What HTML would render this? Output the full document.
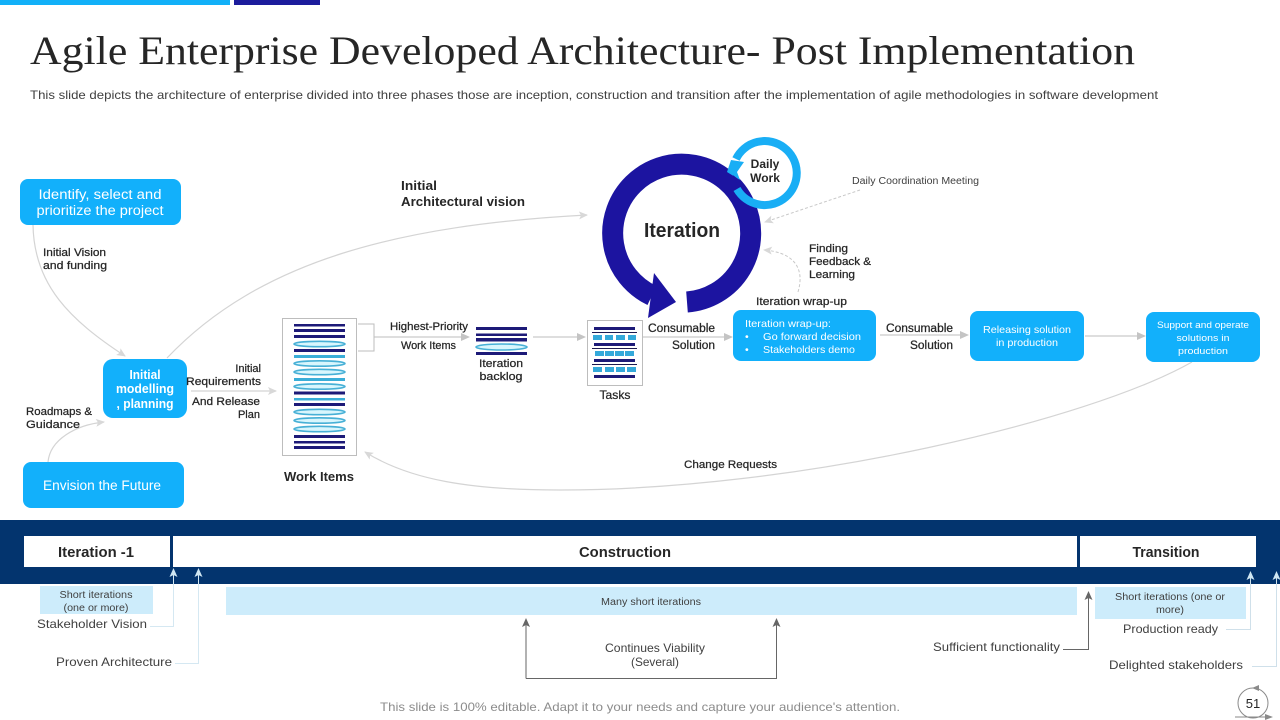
<!DOCTYPE html>
<html><head><meta charset="utf-8"><style>
html,body{margin:0;padding:0;background:#fff;width:1280px;height:720px;overflow:hidden}
svg{display:block}
text{font-family:"Liberation Sans",sans-serif;fill:#262626}
.b{font-weight:bold}
.m{stroke:#262626;stroke-width:.25px}
.wt{fill:#fff}
.t{fill:#404040}
.l{fill:none;stroke:#d4d4d4;stroke-width:1.2}
.g{fill:none;stroke:#bdbdbd;stroke-width:1}
</style></head><body>
<svg width="1280" height="720" viewBox="0 0 1280 720" xmlns="http://www.w3.org/2000/svg">
<defs>
<marker id="a" markerWidth="10" markerHeight="10" refX="8" refY="4" orient="auto" markerUnits="userSpaceOnUse"><path d="M0 0L9 4L0 8z" fill="#c4c4c4"/></marker>
<marker id="c" markerWidth="12" markerHeight="12" refX="8" refY="4" orient="auto" markerUnits="userSpaceOnUse"><path d="M0 0L9 4L0 8L2 4z" fill="#d8d8d8"/></marker>
<marker id="d" markerWidth="12" markerHeight="12" refX="8" refY="4" orient="auto" markerUnits="userSpaceOnUse"><path d="M0 0L9 4L0 8L2 4z" fill="#666"/></marker>
<marker id="e" markerWidth="12" markerHeight="12" refX="8" refY="4" orient="auto" markerUnits="userSpaceOnUse"><path d="M0 0L9 4L0 8L2 4z" fill="#cfe6f2"/></marker>
</defs>

<rect x="0" y="0" width="230" height="5" fill="#12b0f8"/>
<rect x="234" y="0" width="86" height="5" fill="#1c1c9c"/>

<text x="30" y="64" font-size="40" textLength="1105" lengthAdjust="spacingAndGlyphs" style="font-family:'Liberation Serif',serif">Agile Enterprise Developed Architecture- Post Implementation</text>
<text x="30" y="99" font-size="12" textLength="1128" lengthAdjust="spacingAndGlyphs" class="t">This slide depicts the architecture of enterprise divided into three phases those are inception, construction and transition after the implementation of agile methodologies in software development</text>

<!-- connector curves -->
<path class="l" d="M33 225C34 285 70 320 125 356" marker-end="url(#c)"/>
<path class="l" d="M167 358C260 260 400 225 587 215" marker-end="url(#c)"/>
<path class="l" d="M48 462C50 440 75 425 104 422" marker-end="url(#c)"/>
<path class="l" d="M1192 362C1090 420 800 490 560 490C470 490 410 480 365 452" marker-end="url(#c)"/>
<path class="l" d="M191 391H276" marker-end="url(#c)"/>
<path class="g" d="M358 324H374V351H358M374 337H469" marker-end="url(#a)"/>
<path class="g" d="M533 337H585" marker-end="url(#a)"/>
<path class="g" d="M643 337H732" marker-end="url(#a)"/>
<path class="g" d="M880 335H968" marker-end="url(#a)"/>
<path class="g" d="M1085 336H1145" marker-end="url(#a)"/>
<path d="M860 190L765 222" fill="none" stroke="#c8c8c8" stroke-dasharray="3 2" marker-end="url(#c)"/>
<path d="M798 292C806 265 790 252 764 250" fill="none" stroke="#c8c8c8" stroke-dasharray="3 2" marker-end="url(#c)"/>

<!-- iteration ring -->
<path d="M687 302A69 69 0 1 0 652 295.500" fill="none" stroke="#1c14a0" stroke-width="21"/>
<path d="M654 273L676 302L648 318z" fill="#1c14a0"/>
<text x="682" y="237" font-size="20" text-anchor="middle" class="b" textLength="76" lengthAdjust="spacingAndGlyphs">Iteration</text>

<!-- daily work ring -->
<path d="M737 189A32 32 0 1 0 736 159" fill="none" stroke="#19aef5" stroke-width="8"/>
<path d="M731 160L744 162L737 172L740 180L727 172z" fill="#19aef5"/>
<path d="M733 175L739 180L737 184z" fill="#1c14a0"/>
<text x="765" y="168" font-size="12" text-anchor="middle" class="b">Daily</text>
<text x="765" y="182" font-size="12" text-anchor="middle" class="b">Work</text>

<!-- blue boxes -->
<rect x="20" y="179" width="161" height="46" rx="8" fill="#12b0fb"/>
<text x="100" y="199" font-size="13.500" text-anchor="middle" class="wt" textLength="123" lengthAdjust="spacingAndGlyphs">Identify, select and</text>
<text x="100" y="215" font-size="13.500" text-anchor="middle" class="wt" textLength="127" lengthAdjust="spacingAndGlyphs">prioritize the project</text>
<rect x="103" y="359" width="84" height="59" rx="10" fill="#12b0fb"/>
<text x="145" y="379" font-size="12.500" text-anchor="middle" class="b wt" textLength="31" lengthAdjust="spacingAndGlyphs">Initial</text>
<text x="145" y="393" font-size="12.500" text-anchor="middle" class="b wt" textLength="58" lengthAdjust="spacingAndGlyphs">modelling</text>
<text x="145" y="408" font-size="12.500" text-anchor="middle" class="b wt" textLength="57" lengthAdjust="spacingAndGlyphs">, planning</text>
<rect x="23" y="462" width="161" height="46" rx="8" fill="#12b0fb"/>
<text x="102" y="490" font-size="13.500" text-anchor="middle" class="wt" textLength="118" lengthAdjust="spacingAndGlyphs">Envision the Future</text>
<rect x="733" y="310" width="143" height="51" rx="8" fill="#12b0fb"/>
<text x="745" y="327" font-size="10.500" class="wt" textLength="86" lengthAdjust="spacingAndGlyphs">Iteration wrap-up:</text>
<text x="745" y="340" font-size="10.500" class="wt">•</text>
<text x="763" y="340" font-size="10.500" class="wt" textLength="98" lengthAdjust="spacingAndGlyphs">Go forward decision</text>
<text x="745" y="353" font-size="10.500" class="wt">•</text>
<text x="763" y="353" font-size="10.500" class="wt" textLength="92" lengthAdjust="spacingAndGlyphs">Stakeholders demo</text>
<rect x="970" y="311" width="114" height="50" rx="8" fill="#12b0fb"/>
<text x="1027" y="333" font-size="10.500" text-anchor="middle" class="wt" textLength="88" lengthAdjust="spacingAndGlyphs">Releasing solution</text>
<text x="1027" y="346" font-size="10.500" text-anchor="middle" class="wt" textLength="62" lengthAdjust="spacingAndGlyphs">in production</text>
<rect x="1146" y="312" width="114" height="50" rx="8" fill="#12b0fb"/>
<text x="1203" y="328" font-size="9.500" text-anchor="middle" class="wt" textLength="92" lengthAdjust="spacingAndGlyphs">Support and operate</text>
<text x="1203" y="341" font-size="9.500" text-anchor="middle" class="wt" textLength="53" lengthAdjust="spacingAndGlyphs">solutions in</text>
<text x="1203" y="354" font-size="9.500" text-anchor="middle" class="wt" textLength="50" lengthAdjust="spacingAndGlyphs">production</text>

<!-- work items -->
<rect x="282.500" y="318.500" width="74" height="137" fill="#fff" stroke="#bdbdbd"/>
<g fill="#1d1a78">
<rect x="294" y="324" width="51" height="2.500"/><rect x="294" y="329" width="51" height="3"/><rect x="294" y="335" width="51" height="3"/>
<rect x="294" y="349" width="51" height="3"/><rect x="294" y="391.500" width="51" height="3"/><rect x="294" y="403" width="51" height="3"/>
<rect x="294" y="435" width="51" height="3"/><rect x="294" y="441" width="51" height="2.500"/><rect x="294" y="446" width="51" height="3"/>
</g>
<g fill="#3aaed8"><rect x="294" y="355" width="51" height="3"/><rect x="294" y="378" width="51" height="3"/><rect x="294" y="398" width="51" height="2.500"/></g>
<g fill="#d8f6fd" stroke="#47b0d6" stroke-width="1.600">
<ellipse cx="319.500" cy="344" rx="25.500" ry="2.700"/><ellipse cx="319.500" cy="363.500" rx="25.500" ry="2.700"/><ellipse cx="319.500" cy="372" rx="25.500" ry="2.700"/>
<ellipse cx="319.500" cy="386.500" rx="25.500" ry="2.700"/><ellipse cx="319.500" cy="412" rx="25.500" ry="2.700"/><ellipse cx="319.500" cy="420.500" rx="25.500" ry="2.700"/><ellipse cx="319.500" cy="429" rx="25.500" ry="2.700"/>
</g>

<!-- iteration backlog -->
<g fill="#1d1a78"><rect x="476" y="327" width="51" height="3"/><rect x="476" y="333.500" width="51" height="2.500"/><rect x="476" y="338" width="51" height="3.500"/><rect x="476" y="352" width="51" height="3"/></g>
<ellipse cx="501.500" cy="347" rx="25.500" ry="3" fill="#d8f6fd" stroke="#47b0d6" stroke-width="1.600"/>

<!-- tasks -->
<rect x="587.500" y="320.500" width="55" height="65" fill="#fff" stroke="#bdbdbd"/>
<g fill="#1d1a78"><rect x="594" y="327" width="41" height="3"/><rect x="594" y="343" width="41" height="3"/><rect x="594" y="359" width="41" height="3"/><rect x="594" y="375" width="41" height="3"/></g>
<g fill="#1d1a50"><rect x="592" y="332" width="45" height="1"/><rect x="592" y="348" width="45" height="1"/><rect x="592" y="364" width="45" height="1"/></g>
<g fill="#34a9da">
<rect x="593" y="335" width="9" height="5"/><rect x="605" y="335" width="8" height="5"/><rect x="616" y="335" width="9" height="5"/><rect x="628" y="335" width="8" height="5"/>
<rect x="595" y="351" width="9" height="5"/><rect x="605" y="351" width="9" height="5"/><rect x="615" y="351" width="9" height="5"/><rect x="625" y="351" width="9" height="5"/>
<rect x="593" y="367" width="9" height="5"/><rect x="605" y="367" width="9" height="5"/><rect x="616" y="367" width="9" height="5"/><rect x="627" y="367" width="9" height="5"/>
</g>

<!-- labels -->
<text x="43" y="256" font-size="11" class="m" textLength="63" lengthAdjust="spacingAndGlyphs">Initial Vision</text>
<text x="43" y="269" font-size="11" class="m" textLength="64" lengthAdjust="spacingAndGlyphs">and funding</text>
<text x="261" y="372" font-size="11" text-anchor="end" class="m">Initial</text>
<text x="261" y="385" font-size="11" text-anchor="end" class="m" textLength="75" lengthAdjust="spacingAndGlyphs">Requirements</text>
<text x="260" y="405" font-size="11" text-anchor="end" class="m" textLength="68" lengthAdjust="spacingAndGlyphs">And Release</text>
<text x="260" y="418" font-size="11" text-anchor="end" class="m">Plan</text>
<text x="26" y="415" font-size="11" class="m" textLength="66" lengthAdjust="spacingAndGlyphs">Roadmaps &amp;</text>
<text x="26" y="428" font-size="11" class="m" textLength="54" lengthAdjust="spacingAndGlyphs">Guidance</text>
<text x="390" y="330" font-size="11" class="m" textLength="78" lengthAdjust="spacingAndGlyphs">Highest-Priority</text>
<text x="401" y="349" font-size="11" class="m" textLength="55" lengthAdjust="spacingAndGlyphs">Work Items</text>
<text x="501" y="367" font-size="11" text-anchor="middle" class="m" textLength="44" lengthAdjust="spacingAndGlyphs">Iteration</text>
<text x="501" y="380" font-size="11" text-anchor="middle" class="m" textLength="43" lengthAdjust="spacingAndGlyphs">backlog</text>
<text x="615" y="399" font-size="12" text-anchor="middle" class="m" textLength="31" lengthAdjust="spacingAndGlyphs">Tasks</text>
<text x="648" y="332" font-size="11.500" class="m" textLength="67" lengthAdjust="spacingAndGlyphs">Consumable</text>
<text x="672" y="349" font-size="11.500" class="m" textLength="43" lengthAdjust="spacingAndGlyphs">Solution</text>
<text x="886" y="332" font-size="11.500" class="m" textLength="67" lengthAdjust="spacingAndGlyphs">Consumable</text>
<text x="910" y="349" font-size="11.500" class="m" textLength="43" lengthAdjust="spacingAndGlyphs">Solution</text>
<text x="756" y="305" font-size="11" class="m" textLength="91" lengthAdjust="spacingAndGlyphs">Iteration wrap-up</text>
<text x="809" y="252" font-size="11" class="m" textLength="39" lengthAdjust="spacingAndGlyphs">Finding</text>
<text x="809" y="265" font-size="11" class="m" textLength="62" lengthAdjust="spacingAndGlyphs">Feedback &amp;</text>
<text x="809" y="278" font-size="11" class="m" textLength="46" lengthAdjust="spacingAndGlyphs">Learning</text>
<text x="401" y="190" font-size="13" class="b" textLength="36" lengthAdjust="spacingAndGlyphs">Initial</text>
<text x="401" y="206" font-size="13" class="b" textLength="124" lengthAdjust="spacingAndGlyphs">Architectural vision</text>
<text x="284" y="481" font-size="13" class="b" textLength="70" lengthAdjust="spacingAndGlyphs">Work Items</text>
<text x="684" y="468" font-size="11" class="m" textLength="93" lengthAdjust="spacingAndGlyphs">Change Requests</text>
<text x="852" y="184" font-size="10" textLength="127" lengthAdjust="spacingAndGlyphs" class="t">Daily Coordination Meeting</text>

<!-- band -->
<rect x="0" y="520" width="1280" height="64" fill="#03346e"/>
<rect x="24" y="536" width="146" height="31" fill="#fff"/>
<rect x="173" y="536" width="904" height="31" fill="#fff"/>
<rect x="1080" y="536" width="176" height="31" fill="#fff"/>
<text x="96" y="557" font-size="14.500" text-anchor="middle" class="b" textLength="76" lengthAdjust="spacingAndGlyphs">Iteration -1</text>
<text x="625" y="557" font-size="14.500" text-anchor="middle" class="b" textLength="92" lengthAdjust="spacingAndGlyphs">Construction</text>
<text x="1166" y="557" font-size="14.500" text-anchor="middle" class="b" textLength="67" lengthAdjust="spacingAndGlyphs">Transition</text>

<!-- lower boxes -->
<rect x="40" y="586" width="113" height="28" fill="#cdecfb"/>
<rect x="226" y="587" width="851" height="28" fill="#cdecfb"/>
<rect x="1095" y="587" width="151" height="32" fill="#cdecfb"/>
<text x="96" y="598" font-size="10" text-anchor="middle" textLength="73" lengthAdjust="spacingAndGlyphs" class="t">Short iterations</text>
<text x="96" y="611" font-size="10" text-anchor="middle" textLength="65" lengthAdjust="spacingAndGlyphs" class="t">(one or more)</text>
<text x="651" y="605" font-size="10" text-anchor="middle" textLength="100" lengthAdjust="spacingAndGlyphs" class="t">Many short iterations</text>
<text x="1170" y="600" font-size="10" text-anchor="middle" textLength="110" lengthAdjust="spacingAndGlyphs" class="t">Short iterations (one or</text>
<text x="1170" y="613" font-size="10" text-anchor="middle" textLength="28" lengthAdjust="spacingAndGlyphs" class="t">more)</text>

<text x="37" y="628" font-size="12" textLength="110" lengthAdjust="spacingAndGlyphs" class="t">Stakeholder Vision</text>
<text x="56" y="666" font-size="12" textLength="116" lengthAdjust="spacingAndGlyphs" class="t">Proven Architecture</text>
<text x="605" y="652" font-size="12" textLength="100" lengthAdjust="spacingAndGlyphs" class="t">Continues Viability</text>
<text x="631" y="666" font-size="12" textLength="48" lengthAdjust="spacingAndGlyphs" class="t">(Several)</text>
<text x="933" y="651" font-size="12" textLength="127" lengthAdjust="spacingAndGlyphs" class="t">Sufficient functionality</text>
<text x="1123" y="633" font-size="12" textLength="95" lengthAdjust="spacingAndGlyphs" class="t">Production ready</text>
<text x="1109" y="669" font-size="12" textLength="134" lengthAdjust="spacingAndGlyphs" class="t">Delighted stakeholders</text>

<!-- lower connectors -->
<path d="M150 626.500H173.500V569" fill="none" stroke="#d5e8f2" marker-end="url(#e)"/>
<path d="M175 663.500H198.500V569" fill="none" stroke="#d5e8f2" marker-end="url(#e)"/>
<path d="M526 678.500V619" fill="none" stroke="#666" marker-end="url(#d)"/>
<path d="M526 678.500H776.500V619" fill="none" stroke="#666" marker-end="url(#d)"/>
<path d="M1063 649.500H1088.500V592" fill="none" stroke="#666" marker-end="url(#d)"/>
<path d="M1226 629.500H1250.500V572" fill="none" stroke="#cfe0ea" marker-end="url(#e)"/>
<path d="M1252 666.500H1276.500V572" fill="none" stroke="#cfe0ea" marker-end="url(#e)"/>

<!-- footer -->
<text x="380" y="711" font-size="12" textLength="520" lengthAdjust="spacingAndGlyphs" style="fill:#8c8c8c">This slide is 100% editable. Adapt it to your needs and capture your audience's attention.</text>
<circle cx="1253" cy="703" r="15" fill="none" stroke="#8a8a8a"/>
<text x="1253" y="708" font-size="13" text-anchor="middle">51</text>
<path d="M1252 688l7-3v6z" fill="#8a8a8a"/>
<path d="M1235 717H1270" stroke="#8a8a8a" fill="none"/>
<path d="M1265 714l8 3-8 3z" fill="#8a8a8a"/>
</svg>
</body></html>
